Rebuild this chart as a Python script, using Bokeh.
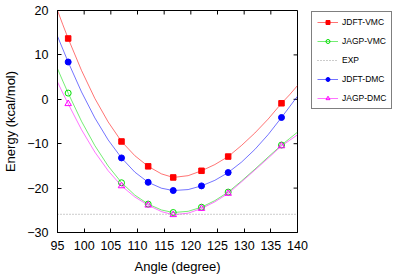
from bokeh.plotting import figure
from bokeh.layouts import row
from bokeh.models import Range1d, Legend, LegendItem
from bokeh.embed import file_html
from bokeh.resources import INLINE

# ---- data ----
angles = [97, 107, 112, 116.7, 122, 127, 137]
jdft_vmc = [13.7, -9.5, -15.1, -17.6, -16.1, -12.9, -0.9]
jagp_vmc = [1.4, -18.8, -23.6, -25.5, -24.3, -20.9, -10.3]
jdft_dmc = [8.4, -13.2, -18.7, -20.55, -19.5, -16.5, -4.1]
jagp_dmc = [-1.0, -19.5, -23.85, -26.0, -24.6, -21.2, -10.5]
exp_value = -25.9

# fitted curves
fit_angles = [95, 96, 97, 99.5, 102, 104.5, 107, 109.5, 112, 114.5, 116.7,
              119.5, 122, 124.5, 127, 129.5, 132, 134.5, 137, 138.5, 140]
fit_jdft_vmc = [20.0, 16.8, 13.7, 6.5, 0.2, -5.1, -9.5, -12.7, -15.1, -16.8, -17.6,
                -17.2, -16.1, -14.7, -12.9, -10.4, -7.6, -4.45, -0.9, 1.0, 3.1]
fit_jagp_vmc = [6.9, 4.1, 1.4, -4.95, -10.43, -15.03, -18.76, -21.58, -23.6, -24.93, -25.5,
                -25.23, -24.3, -22.82, -20.9, -18.4, -15.75, -13.0, -10.3, -8.85, -7.4]
fit_jdft_dmc = [14.2, 11.3, 8.4, 1.66, -4.19, -9.15, -13.2, -16.4, -18.7, -20.03, -20.55,
                -20.33, -19.5, -18.25, -16.5, -14.15, -11.3, -7.95, -4.1, -1.7, 0.7]
fit_jagp_dmc = [3.9, 1.4, -1.0, -6.84, -11.88, -16.09, -19.5, -22.0, -23.85, -25.3, -26.0,
                -25.65, -24.6, -23.1, -21.2, -18.6, -15.95, -13.25, -10.5, -9.25, -8.0]

x_ticks = [95, 100, 105, 110, 115, 120, 125, 130, 135, 140]
y_ticks = [-30, -20, -10, 0, 10, 20]
x_label = "Angle (degree)"
y_label = "Energy (kcal/mol)"
names = ["JDFT-VMC", "JAGP-VMC", "EXP", "JDFT-DMC", "JAGP-DMC"]

FONT = "Liberation Sans"
x_min, x_max = x_ticks[0], x_ticks[-1]
y_min, y_max = y_ticks[0], y_ticks[-1]

PW, PH = 310, 276
BL, BR, BT, BB = 52, 13, 10, 44
FW, FH = PW - BL - BR, PH - BT - BB

p = figure(width=PW, height=PH,
           x_range=Range1d(x_min, x_max), y_range=Range1d(y_min, y_max),
           output_backend="svg", toolbar_location=None,
           min_border_left=BL, min_border_top=BT, min_border_bottom=BB,
           min_border_right=BR)
p.grid.visible = False
p.outline_line_color = "black"
p.outline_line_width = 1
p.background_fill_color = "white"
p.border_fill_color = "white"

p.xaxis.axis_label = x_label
p.yaxis.axis_label = y_label
p.xaxis.ticker = x_ticks
p.yaxis.ticker = y_ticks

for ax in [p.xaxis[0], p.yaxis[0]]:
    ax.major_tick_in = 4
    ax.major_tick_out = 0
    ax.minor_tick_line_color = None
    ax.axis_line_color = "black"
    ax.major_tick_line_color = "black"
    ax.major_label_text_font = FONT
    ax.major_label_text_font_size = "12.5px"
    ax.major_label_text_color = "black"
    ax.axis_label_text_font = FONT
    ax.axis_label_text_font_size = "13px"
    ax.axis_label_text_font_style = "normal"
    ax.axis_label_text_color = "black"
p.xaxis.major_label_standoff = 8
p.yaxis.major_label_standoff = 9
p.xaxis.axis_label_standoff = 6
p.yaxis.axis_label_standoff = 6

# mirror ticks on the top and right edges (4 px long)
tlx = (x_max - x_min) * 4.0 / FW
tly = (y_max - y_min) * 4.0 / FH
p.segment(x0=x_ticks, y0=[y_max] * len(x_ticks), x1=x_ticks,
          y1=[y_max - tly] * len(x_ticks), line_color="black", line_width=1)
p.segment(x0=[x_max] * len(y_ticks), y0=y_ticks, x1=[x_max - tlx] * len(y_ticks),
          y1=y_ticks, line_color="black", line_width=1)

series = [
    (jdft_vmc, fit_jdft_vmc, "#ff0000", "square", True, 5.5),
    (jagp_vmc, fit_jagp_vmc, "#00dd00", "circle", False, 6),
    (jdft_dmc, fit_jdft_dmc, "#0000ff", "circle", True, 6),
    (jagp_dmc, fit_jagp_dmc, "#ff00ff", "triangle", False, 6.5),
]

for vals, fit, col, mk, filled, sz in series:
    p.line(fit_angles, fit, line_color=col, line_width=1, line_alpha=0.55)
    p.scatter(angles, vals, marker=mk, size=sz, line_color=col,
              fill_color=col if filled else None, line_width=1)

p.line([x_min, x_max], [exp_value, exp_value],
       line_color="#999999", line_width=1, line_dash="1 2")

# key box to the right of the plot (gnuplot-style key)
nan = float("nan")
LGW = 395 - PW
lg = figure(width=LGW, height=PH, x_range=Range1d(0, 1), y_range=Range1d(0, 1),
            output_backend="svg", toolbar_location=None,
            min_border_left=0, min_border_right=0, min_border_top=8, min_border_bottom=0)
lg.axis.visible = False
lg.grid.visible = False
lg.outline_line_color = None
lg.background_fill_color = "white"
lg.border_fill_color = "white"

key_r = []
for vals, fit, col, mk, filled, sz in series:
    a = lg.line([nan], [nan], line_color=col, line_width=1, line_alpha=0.55)
    b = lg.scatter([nan], [nan], marker=mk, size=sz - 0.5, line_color=col,
                   fill_color=col if filled else None, line_width=1)
    key_r.append([a, b])
key_exp = lg.line([nan], [nan], line_color="#999999", line_width=1, line_dash="1 2")

items = [
    LegendItem(label=names[0], renderers=key_r[0]),
    LegendItem(label=names[1], renderers=key_r[1]),
    LegendItem(label=names[2], renderers=[key_exp]),
    LegendItem(label=names[3], renderers=key_r[2]),
    LegendItem(label=names[4], renderers=key_r[3]),
]
legend = Legend(items=items, location="top_left", margin=1,
                border_line_color="black", border_line_width=1,
                background_fill_color="white", background_fill_alpha=1,
                label_text_font=FONT, label_text_font_size="8.5px",
                label_text_color="black",
                glyph_width=21, glyph_height=10, label_height=10,
                label_standoff=4, spacing=9, padding=5)
lg.add_layout(legend)

open("out.html", "w").write(file_html(row(p, lg), INLINE))
